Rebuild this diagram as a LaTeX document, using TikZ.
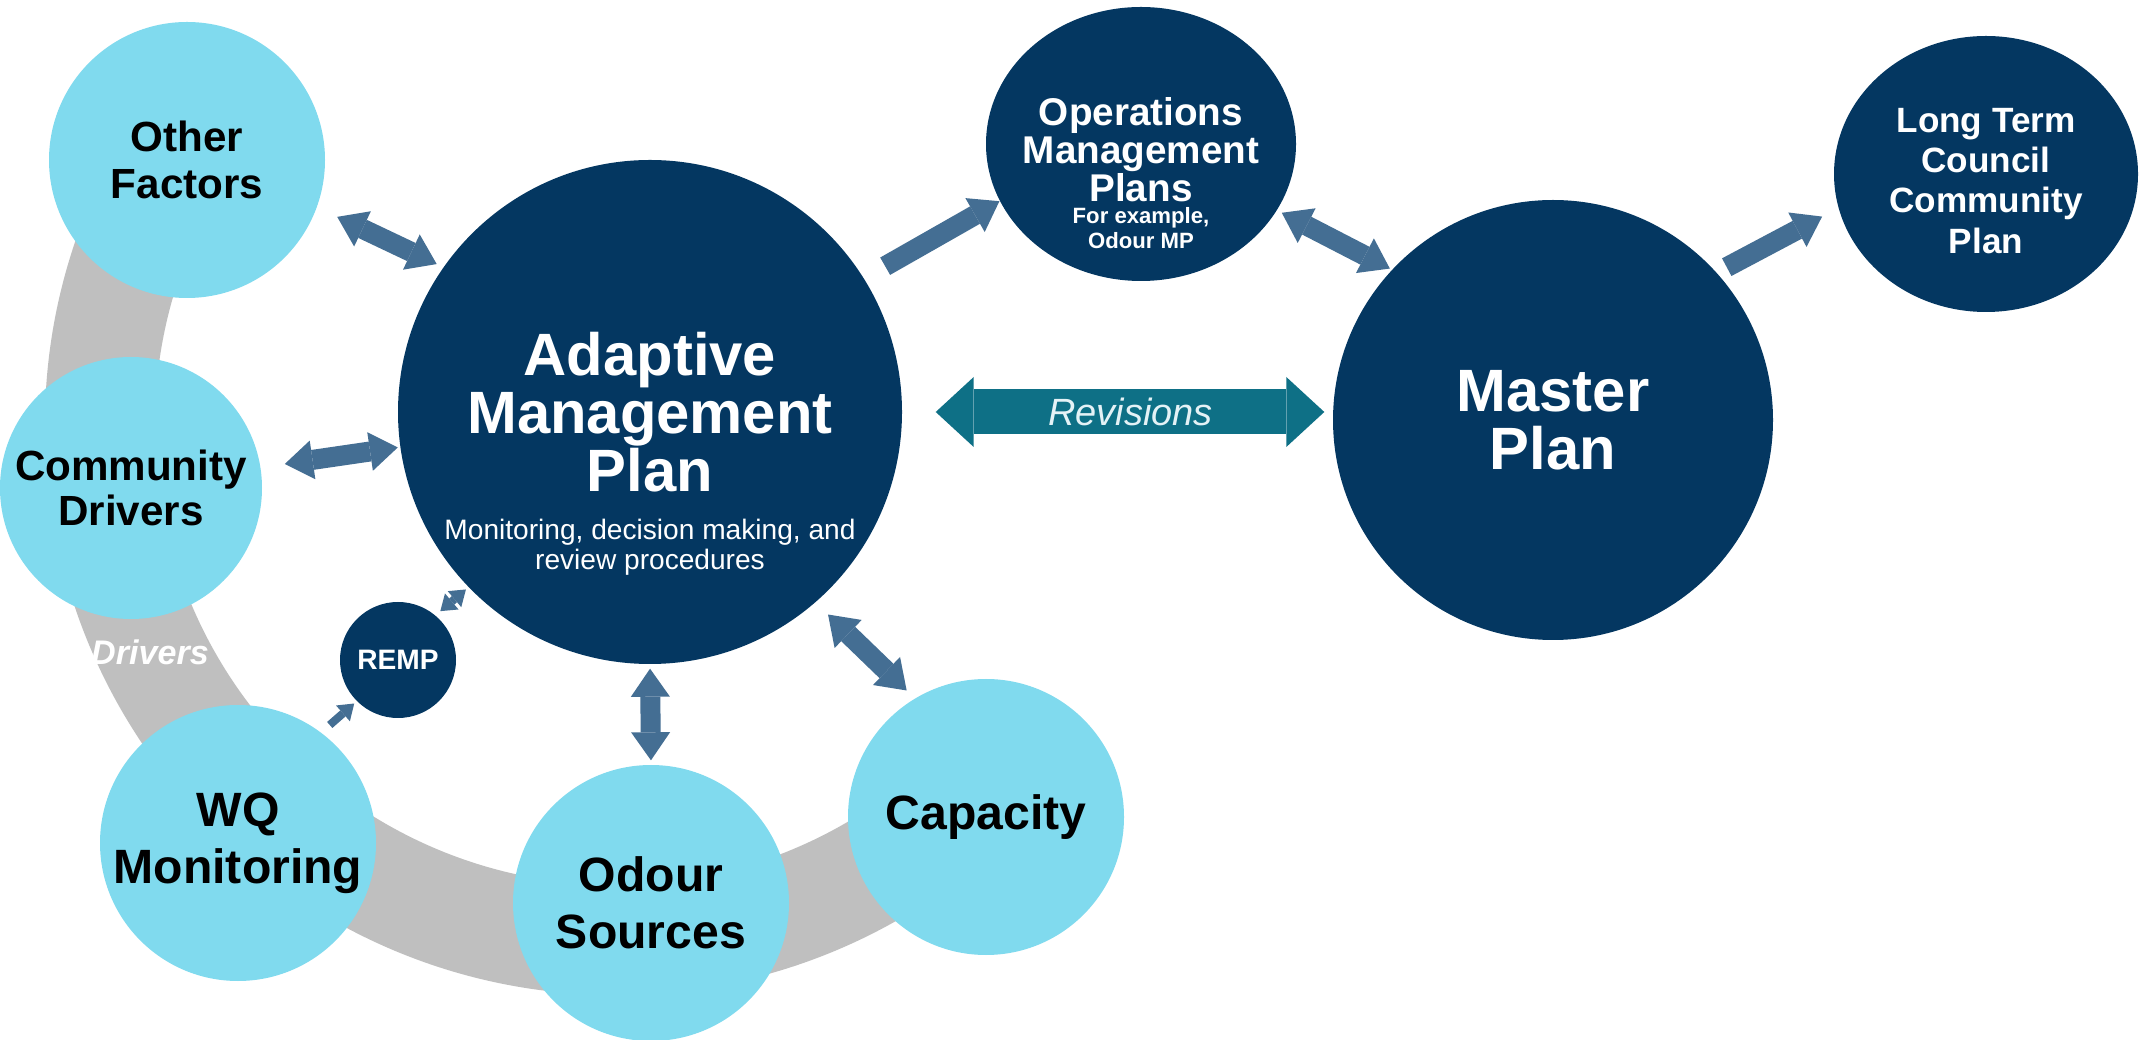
\documentclass[tikz,border=0pt]{standalone}
\usepackage{fontspec}
\setmainfont{Liberation Sans}
\usepackage{tikz}
\usetikzlibrary{arrows.meta, positioning, shapes.geometric}

\definecolor{plannavy}{RGB}{4,55,97}
\definecolor{factorcyan}{RGB}{128,218,238}
\definecolor{linkblue}{RGB}{68,110,147}
\definecolor{revteal}{RGB}{14,112,134}
\definecolor{bandgrey}{RGB}{191,191,191}
\definecolor{revtext}{RGB}{228,242,246}

\begin{document}
\begin{tikzpicture}[
  factor/.style={circle, fill=factorcyan, minimum size=2.76cm, inner sep=0pt,
                 align=center, font=\bfseries\fontsize{13.7}{16.2}\selectfont},
  plan/.style={circle, fill=plannavy, inner sep=0pt, align=center,
               text=white, font=\bfseries\fontsize{17}{16.5}\selectfont},
  subplan/.style={ellipse, fill=plannavy, inner sep=0pt, align=center,
                  text=white, font=\bfseries\fontsize{11}{10.8}\selectfont},
  note/.style={align=center, text=white, font=\fontsize{8}{8.5}\selectfont},
  link/.style={draw=linkblue, line width=2mm,
               >={Triangle[width=3.9mm, length=2.8mm, line width=0pt]}},
  smalllink/.style={draw=linkblue, line width=0.8mm,
               >={Triangle[width=2.1mm, length=1.5mm, line width=0pt]}},
  revlink/.style={draw=revteal, line width=4.5mm,
               >={Triangle[width=7mm, length=3.8mm, line width=0pt]}}
]
  \fill[white] (0,0) rectangle (21.39,10.39);
  \useasboundingbox (0,0) rectangle (21.39,10.39);

  \draw[bandgrey, line width=1.1cm] (6.15,6.14) ++(150:5.15)
    arc[start angle=150, end angle=315, radius=5.15];

  \node[factor, font=\bfseries\fontsize{12}{13.3}\selectfont] (other) at (1.87,8.79) {Other\\Factors};
  \node[factor, minimum size=2.62cm, font=\bfseries\fontsize{12}{13}\selectfont] (community) at (1.31,5.51) {Community\\Drivers};
  \node[factor] (wq) at (2.38,1.96) {WQ\\Monitoring};
  \node[factor] (odour) at (6.51,1.36) {Odour\\Sources};
  \node[factor] (capacity) at (9.86,2.22) {Capacity};
  \node[text=white, font=\bfseries\itshape\fontsize{9.7}{10}\selectfont] (drivers) at (1.50,3.87) {Drivers};

  \node[plan, minimum size=5.04cm] (amp) at (6.50,6.27) {Adaptive\\Management\\Plan};
  \node[note] (ampnote) at (6.50,4.92) {Monitoring, decision making, and\\review procedures};
  \node[plan, minimum size=1.16cm, font=\bfseries\fontsize{8}{9}\selectfont] (remp) at (3.98,3.79) {REMP};

  \node[subplan, minimum width=3.10cm, minimum height=2.74cm] (omp) at (11.41,8.95) {};
  \node[subplan, fill=none] (omptitle) at (11.41,8.89) {Operations\\Management\\Plans};
  \node[note, font=\bfseries\fontsize{6.3}{7.1}\selectfont] (ompnote) at (11.41,8.11) {For example,\\Odour MP};
  \node[plan, minimum size=4.40cm] (master) at (15.53,6.19) {Master\\Plan};
  \node[subplan, minimum width=3.04cm, minimum height=2.76cm] (ltccp) at (19.86,8.65) {};
  \node[subplan, fill=none, font=\bfseries\fontsize{10}{11.4}\selectfont] (ltccptitle) at (19.86,8.58) {Long Term\\Council\\Community\\Plan};

  \draw[link, <->, shorten <=2.2mm, shorten >=0.7mm] (other.-20) -- (amp.145);
  \draw[link, <->, shorten <=2.4mm, shorten >=0.2mm] (community.9) -- (amp.188);
  \draw[smalllink, <->, shorten <=0.6mm, shorten >=0.3mm] (remp.50) -- (amp.224);
  \draw[smalllink, ->, shorten <=1.1mm, shorten >=0.3mm] (wq.53) -- (remp.225);
  \draw[link, <->, shorten <=0.4mm, shorten >=0.4mm] (amp.-90) -- (odour.90);
  \draw[link, <->, shorten <=1.7mm, shorten >=1.1mm] (amp.-49) -- (capacity.121);
  \draw[link, ->, shorten <=2.4mm] (amp.32) -- (omp.202);
  \draw[link, <->, shorten <=0.5mm, shorten >=0.2mm] (omp.-26) -- (master.137);
  \draw[link, ->, shorten <=1.1mm, shorten >=1.8mm] (master.42) -- (ltccp.193);
  \draw[revlink, <->, shorten <=3.3mm, shorten >=0.8mm] (amp.east) -- (amp.east -| master.west)
    node[pos=0.53, text=revtext, font=\itshape\fontsize{10.8}{11}\selectfont] {Revisions};
\end{tikzpicture}
\end{document}
